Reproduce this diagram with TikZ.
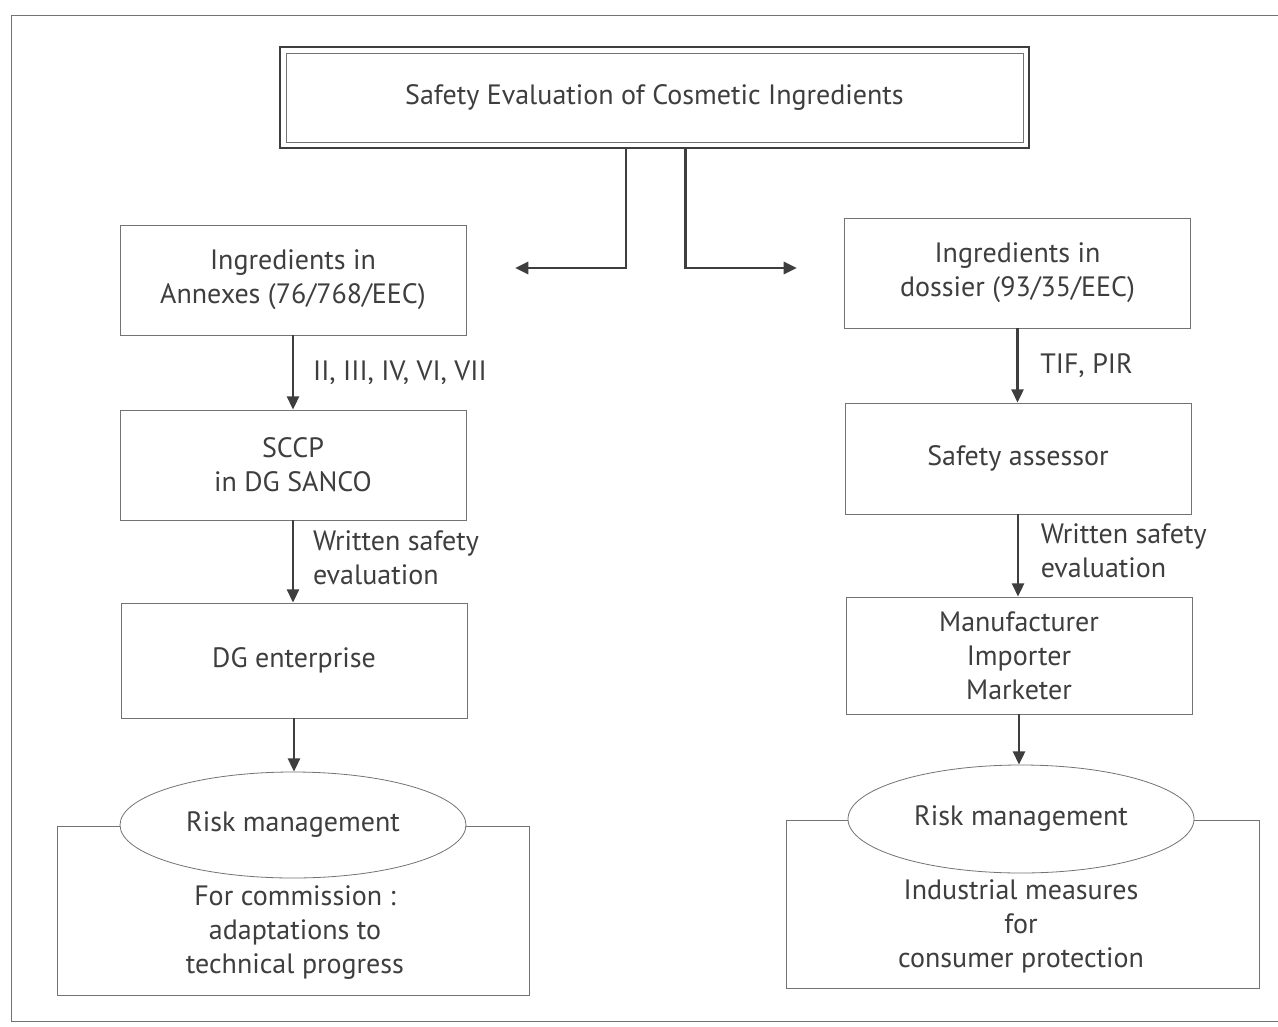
\documentclass[tikz,border=0pt]{standalone}
\usepackage{fontspec}
\setmainfont{PT Sans}
\usepackage{xcolor}
\usetikzlibrary{arrows.meta,shapes.geometric}
\definecolor{inkgrey}{RGB}{62,62,62}
\definecolor{boxgrey}{RGB}{115,115,115}

\begin{document}
\begin{tikzpicture}[x=0.75pt,y=0.75pt,yscale=-1,xscale=1,
  every node/.style={font=\fontsize{21}{25.5}\selectfont, text=inkgrey},
  stage/.style={draw=boxgrey, line width=0.6pt, minimum width=259.5pt, minimum height=82.5pt, align=center, inner sep=0pt},
  riskoval/.style={ellipse, draw=boxgrey, line width=0.6pt, fill=white, minimum width=259.5pt, minimum height=79.5pt, inner sep=0pt},
  outcome/.style={draw=boxgrey, line width=0.6pt, minimum width=354pt, minimum height=126.75pt, inner sep=0pt},
  flow/.style={draw=inkgrey, line width=2.2pt, -{Triangle[length=10pt,width=9pt]}},
  flowlabel/.style={anchor=west, align=left, inner sep=0pt, xshift=14pt}
]
\useasboundingbox (0,0) rectangle (1278,1027);
\fill[white] (0,0) rectangle (1278,1027);

%Shape: Frame
\draw[boxgrey, line width=0.6pt] (1278,15) -- (11,15) -- (11,1021) -- (1278,1021);

%Shape: Double Rectangle
\node[draw=inkgrey, line width=1.5pt, minimum width=561.75pt, minimum height=75.75pt, inner sep=0pt] (title) at (654.5,97.5) {Safety Evaluation of Cosmetic Ingredients};
\draw[boxgrey, line width=0.6pt] ([shift={(7,7)}]title.north west) rectangle ([shift={(-7,-7)}]title.south east);

%Shape: Rectangle (left column)
\node[stage] (annex) at (293,280) {Ingredients in\\Annexes (76/768/EEC)};
\node[stage] (sccp) at (293,465) {SCCP\\in DG SANCO};
\node[stage, minimum height=86.25pt] (dgent) at (294,660.5) {DG enterprise};
\node[outcome] (leftbox) at (293,910.5) {};
\node[riskoval] (leftrisk) at (293,825) {Risk management};
% Text Node
\node[align=center, inner sep=0pt] (leftnote) at (295,933) {For commission :\\adaptations to\\technical progress};

%Shape: Rectangle (right column)
\node[stage] (dossier) at (1017.5,273) {Ingredients in\\dossier (93/35/EEC)};
\node[stage, minimum height=83.25pt] (assessor) at (1018,458.5) {Safety assessor};
\node[stage, minimum height=87.75pt] (maker) at (1019,655.5) {Manufacturer\\Importer\\Marketer};
\node[outcome, minimum width=354.75pt, minimum height=126pt] (rightbox) at (1022.5,904) {};
\node[riskoval, minimum height=81pt] (rightrisk) at (1021,819) {Risk management};
% Text Node
\node[align=center, inner sep=0pt] (rightnote) at (1021,926) {Industrial measures\\for\\consumer protection};

%Straight Lines
\coordinate (lend) at (515,268);
\coordinate (rend) at (797,268);
\draw[flow] ([xshift=-21.4pt]title.south) |- (lend);
\draw[flow] ([xshift=22.9pt]title.south) |- (rend);

\draw[flow] (annex.south) -- node[flowlabel, midway] {II, III, IV, VI, VII} (sccp.north);
\draw[flow] (sccp.south) -- node[flowlabel, midway, yshift=3pt] {Written safety\\evaluation} (sccp.south |- dgent.north);
\draw[flow] (dgent.south) -- (dgent.south |- leftrisk.north);

\draw[flow] (dossier.south) -- node[flowlabel, midway, xshift=2pt] {TIF, PIR} (dossier.south |- assessor.north);
\draw[flow] (assessor.south) -- node[flowlabel, midway, xshift=2pt, yshift=3.5pt] {Written safety\\evaluation} (assessor.south |- maker.north);
\draw[flow] (maker.south) -- (maker.south |- rightrisk.north);

\end{tikzpicture}
\end{document}
